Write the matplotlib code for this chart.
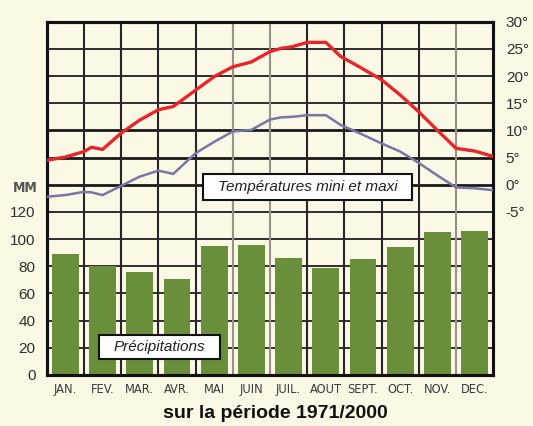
import matplotlib
matplotlib.use("Agg")
import matplotlib.pyplot as plt
from matplotlib.patches import Rectangle
from matplotlib import font_manager as fm
import numpy as np

# ---- data ----
months = ["JAN.", "FEV.", "MAR.", "AVR.", "MAI", "JUIN", "JUIL.", "AOUT", "SEPT.", "OCT.", "NOV.", "DEC."]
precip_mm = [89, 80, 75.5, 71, 95, 96, 86, 78.5, 85, 94, 105, 106]

# temperature curves sampled along the year (in months from 1 January)
curve_month = [0, 0.5, 1.0, 1.2, 1.5, 2.0, 2.5, 3.0, 3.4, 4.0, 4.5, 5.0, 5.5, 6.0,
               6.3, 6.6, 7.0, 7.5, 7.9, 8.4, 9.0, 9.5, 10.0, 10.5, 11.0, 11.5, 12.0]
temp_max = [4.5, 5.1, 6.1, 6.9, 6.5, 9.5, 11.9, 13.8, 14.4, 17.4, 19.9, 21.7, 22.6, 24.5,
            25.1, 25.4, 26.2, 26.2, 23.6, 21.7, 19.3, 16.5, 13.4, 10.0, 6.7, 6.2, 5.2]
temp_min = [-2.2, -1.9, -1.3, -1.4, -1.9, -0.2, 1.5, 2.6, 2.0, 5.8, 7.9, 9.8, 10.1, 12.0,
            12.4, 12.5, 12.8, 12.8, 11.0, 9.5, 7.6, 6.1, 4.0, 1.7, -0.5, -0.65, -1.0]

precip_ticks = [0, 20, 40, 60, 80, 100, 120]
temp_ticks = [-5, 0, 5, 10, 15, 20, 25, 30]

title = "sur la période 1971/2000"
temp_label = "Températures mini et maxi"
precip_label = "Précipitations"

# ---- fonts: look for a narrow face for the month labels ----
names = {f.name for f in fm.fontManager.ttflist}
narrow = dict(family="Liberation Sans", fontsize=9)
if "Liberation Sans Narrow" in names:
    narrow = dict(family="Liberation Sans Narrow", fontsize=10)
else:
    cond = [f for f in fm.fontManager.ttflist
            if f.name == "DejaVu Sans" and "condensed" in str(f.stretch).lower()]
    if cond:
        narrow = dict(family="DejaVu Sans", stretch="condensed", fontsize=9.2)

# ---- style ----
BG = "#fbf9e6"
GREEN = "#6a8f3b"
RED = "#e8262a"
PURPLE = "#7a76a6"
TXT = "#2e2e2e"

W, H = 533, 426
fig = plt.figure(figsize=(W / 100, H / 100), dpi=100, facecolor=BG)
L, R, T, B = 46.7, 493.3, 21.7, 375.0
ax = fig.add_axes([L / W, 1 - B / H, (R - L) / W, (B - T) / H])
ax.set_facecolor(BG)
ax.set_xlim(0, 12)
ax.set_ylim(0, 260)

# grid
for k in range(1, 13):
    y = 20 * k
    thick = y in (140, 160, 180)
    ax.axhline(y, color="#1a1a1a" if thick else "#2e2e2e", lw=2.0 if thick else 1.4, zorder=1)
light_v = {5, 6, 11}
for k in range(1, 12):
    col = "#9b9287" if k in light_v else "#262626"
    ax.axvline(k, color=col, lw=1.5, zorder=1)

# bars
xc = np.arange(len(months)) + 0.5
ax.bar(xc, precip_mm, width=0.72, color=GREEN, zorder=2)

ax.set_xticks(xc)
ax.set_xticklabels(months, color="#3a3a3a", **narrow)
ax.set_yticks(precip_ticks)
ax.set_yticklabels([str(v) for v in precip_ticks], family="Liberation Sans", fontsize=11, color=TXT)
ax.tick_params(axis="x", length=0, pad=6)
ax.tick_params(axis="y", length=0, pad=8)
for s in ax.spines.values():
    s.set_linewidth(2.2)
    s.set_color("#111111")

# temperature axis
ax2 = ax.twinx()
ax2.set_ylim(-35, 30)
ax2.set_xlim(0, 12)
ax2.plot(curve_month, temp_max, color=RED, lw=2.4, solid_capstyle="butt", zorder=4)
ax2.plot(curve_month, temp_min, color=PURPLE, lw=1.8, solid_capstyle="butt", zorder=4)
ax2.set_yticks(temp_ticks)
ax2.set_yticklabels([f"{v}°" for v in temp_ticks], family="Liberation Sans", fontsize=11, color=TXT)
ax2.tick_params(axis="y", length=0, pad=9)
for s in ax2.spines.values():
    s.set_linewidth(2.2)
    s.set_color("#111111")

# label boxes
def box(x0, x1, y0, y1, text, fs):
    ax2.add_patch(Rectangle((x0, y0), x1 - x0, y1 - y0, transform=ax2.transAxes,
                            facecolor="white", edgecolor="#111111", lw=1.5, zorder=6))
    ax2.text((x0 + x1) / 2, (y0 + y1) / 2, text, transform=ax2.transAxes, ha="center",
             va="center", fontsize=fs, style="italic", family="Liberation Sans", color="#222222", zorder=7)

box(0.350, 0.818, 0.495, 0.569, temp_label, 11)
box(0.117, 0.388, 0.044, 0.113, precip_label, 11)

mm_font = dict(narrow)
mm_font["fontsize"] = 10
fig.text(38 / W, 1 - 188 / H, "MM", ha="right", va="center", fontweight="bold",
         color="#555555", **mm_font)
fig.text(275 / W, 1 - 413 / H, title, ha="center", va="center", fontsize=14, fontweight="bold",
         family="Liberation Sans", color="#111111")

fig.savefig("out.png", dpi=100, facecolor=BG)
